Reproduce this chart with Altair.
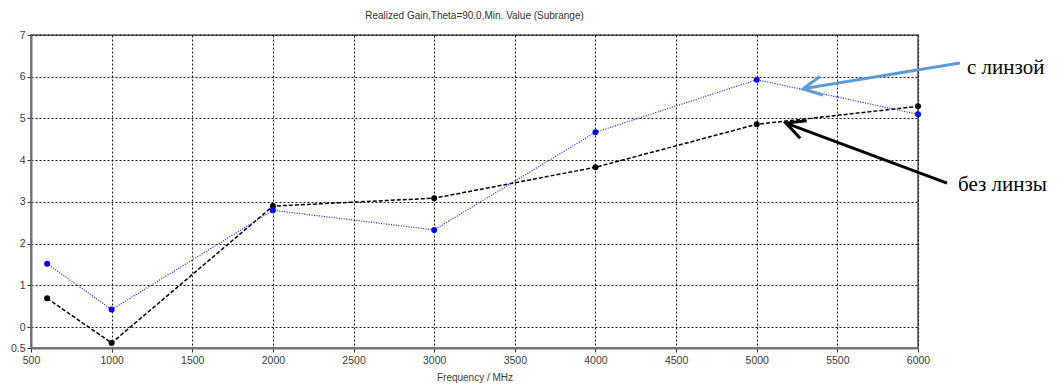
import altair as alt
import pandas as pd

# --- data ---
freq = [600, 1000, 2000, 3000, 4000, 5000, 6000]
with_lens = [1.52, 0.42, 2.80, 2.33, 4.67, 5.93, 5.10]
without_lens = [0.69, -0.38, 2.90, 3.09, 3.83, 4.86, 5.29]

x_ticks = [500, 1000, 1500, 2000, 2500, 3000, 3500, 4000, 4500, 5000, 5500, 6000]
y_ticks = [-0.5, 0, 1, 2, 3, 4, 5, 6, 7]

# annotation arrows (data coordinates)
ann_label = ["с линзой", "без линзы"]
ann_color = ["#5B9BD5", "#000000"]
ann_x_tail = [6260, 6180]
ann_y_tail = [6.33, 3.45]
ann_x_tip = [5287, 5181]
ann_y_tip = [5.71, 4.89]
ann_angle = [170.6, 200.4]
ann_text_x = [6304, 6248]
ann_text_y = [6.21, 3.40]

df = pd.DataFrame({"freq": freq, "with": with_lens, "without": without_lens})
ann = pd.DataFrame({
    "label": ann_label, "color": ann_color,
    "xt": ann_x_tail, "yt": ann_y_tail, "xh": ann_x_tip, "yh": ann_y_tip,
    "angle": ann_angle, "tx": ann_text_x, "ty": ann_text_y,
})

xs = alt.Scale(domain=[500, 6000], nice=False, zero=False)
ys = alt.Scale(domain=[-0.5, 7], nice=False, zero=False)

x_axis = alt.Axis(values=x_ticks, format="d", title="Frequency / MHz", tickCount=40,
                  labelFlush=False, labelOverlap=False)
y_axis = alt.Axis(values=y_ticks, title=None, labelOverlap=False, labelFlush=False,
                  tickCount=40,
                  labelExpr="datum.value == -0.5 ? '0.5' : format(datum.value, 'd')")

base = alt.Chart(df)

black_line = base.mark_line(color="black", strokeWidth=1.5, strokeDash=[4, 2]).encode(
    x=alt.X("freq:Q", scale=xs, axis=x_axis),
    y=alt.Y("without:Q", scale=ys, axis=y_axis),
)
black_pts = base.mark_circle(color="black", size=36, opacity=1).encode(
    x=alt.X("freq:Q", scale=xs), y=alt.Y("without:Q", scale=ys))

blue_line = base.mark_line(color="#1a1aff", strokeWidth=1.2, strokeDash=[1, 1.5]).encode(
    x=alt.X("freq:Q", scale=xs), y=alt.Y("with:Q", scale=ys))
blue_pts = base.mark_circle(color="#0000ee", size=36, opacity=1).encode(
    x=alt.X("freq:Q", scale=xs), y=alt.Y("with:Q", scale=ys))

a = alt.Chart(ann)
arrow_lines = a.mark_rule(strokeWidth=3).encode(
    x=alt.X("xt:Q", scale=xs), y=alt.Y("yt:Q", scale=ys),
    x2="xh:Q", y2="yh:Q",
    color=alt.Color("color:N", scale=None),
)
arrow_heads = a.mark_point(shape="M -1 -0.5 L 0 0 L -1 0.5", filled=False,
                           size=1400, strokeWidth=3, opacity=1).encode(
    x=alt.X("xh:Q", scale=xs), y=alt.Y("yh:Q", scale=ys),
    angle=alt.Angle("angle:Q", scale=None),
    color=alt.Color("color:N", scale=None),
)
arrow_text = a.mark_text(align="left", baseline="middle", font="Liberation Serif",
                         fontSize=21, color="black").encode(
    x=alt.X("tx:Q", scale=xs), y=alt.Y("ty:Q", scale=ys), text="label:N")

chart = alt.layer(
    black_line, black_pts, blue_line, blue_pts, arrow_lines, arrow_heads, arrow_text
).properties(
    width=887, height=313,
    background="white",
    title=alt.TitleParams("Realized Gain,Theta=90.0,Min. Value (Subrange)",
                          font="Liberation Sans", fontSize=10, fontWeight="normal",
                          color="#333333", offset=9, anchor="middle"),
    autosize=alt.AutoSizeParams(type="none"),
    padding={"left": 31, "top": 35, "right": 145, "bottom": 39},
).configure_view(
    stroke="#808080", strokeWidth=2
).configure_axis(
    grid=True, gridColor="black", gridDash=[2, 2], gridOpacity=0.9, gridWidth=1,
    domainColor="#707070", domainWidth=2,
    tickColor="#333333", tickSize=4,
    labelFont="Liberation Sans", labelFontSize=10.5, labelColor="#3a3a3a",
    titleFont="Liberation Sans", titleFontSize=10, titleFontWeight="normal",
    titleColor="#3a3a3a",
).configure_axisX(
    labelPadding=3, titlePadding=7,
).configure_axisY(
    labelPadding=2,
)

chart.save("out.html", embed_options={"renderer": "svg", "actions": False})
